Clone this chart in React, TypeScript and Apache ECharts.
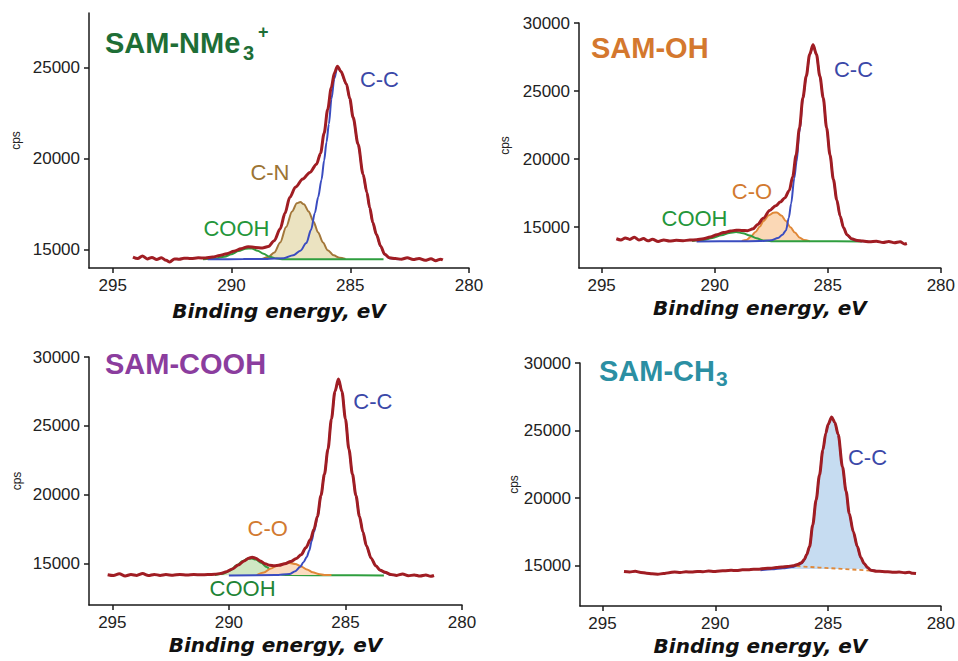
import React, { useEffect, useRef } from 'react';
import * as echarts from 'echarts';

type Pt = [number, number];

// ---------- shared ticks ----------
const xTicks = [295, 290, 285, 280];
const yTicksNme3 = [15000, 20000, 25000];
const yTicks = [15000, 20000, 25000, 30000];

// ---------- Panel 1: SAM-NMe3+ ----------
const nme3Envelope: Pt[] = [[294.15,14600],[293.95,14520],[293.75,14660],[293.55,14500],[293.35,14580],[293.15,14470],[292.95,14560],[292.75,14420],[292.6,14330],[292.4,14500],[292.2,14480],[292.0,14540],[291.7,14520],[291.4,14560],[291.1,14550],[290.8,14600],[290.5,14680],[290.2,14780],[289.9,14920],[289.6,15060],[289.3,15170],[289.0,15130],[288.7,15100],[288.45,15180],[288.2,15500],[287.95,16150],[287.75,17000],[287.55,17870],[287.3,18450],[287.0,18890],[286.7,19250],[286.42,19700],[286.25,20300],[286.1,21400],[285.95,22700],[285.8,23900],[285.67,24700],[285.54,25080],[285.4,24800],[285.16,24100],[285.02,23300],[284.88,22270],[284.67,20800],[284.46,19150],[284.3,18150],[284.18,17320],[284.05,16500],[283.9,15850],[283.72,15200],[283.55,14760],[283.35,14560],[283.1,14520],[282.85,14480],[282.6,14560],[282.35,14460],[282.1,14520],[281.85,14420],[281.6,14510],[281.4,14400],[281.2,14480],[281.1,14440]];
const nme3CC: Pt[] = [[291.0,14480],[289.5,14490],[288.5,14500],[287.8,14540],[287.4,14700],[287.1,14950],[286.85,15370],[286.65,16100],[286.49,17020],[286.35,17900],[286.21,18850],[286.1,19900],[286.0,20900],[285.9,21900],[285.79,23300],[285.67,24400],[285.54,25050],[285.4,24780],[285.16,24080],[285.02,23280],[284.88,22250],[284.67,20780],[284.46,19130],[284.3,18130],[284.18,17300],[284.05,16480],[283.9,15830],[283.72,15180],[283.55,14740],[283.35,14540],[283.1,14490],[282.9,14480]];
const nme3CN: Pt[] = [[288.7,14500],[288.45,14600],[288.2,14850],[287.95,15400],[287.7,16250],[287.45,17100],[287.25,17550],[287.1,17620],[286.95,17500],[286.75,17100],[286.55,16550],[286.35,15950],[286.15,15400],[285.95,14980],[285.7,14700],[285.45,14560],[285.2,14500]];
const nme3COOH: Pt[] = [[291.2,14480],[290.7,14520],[290.3,14620],[290.0,14750],[289.7,14930],[289.4,15060],[289.15,15070],[288.9,14950],[288.65,14780],[288.4,14620],[288.1,14520],[287.8,14480],[285.5,14480],[283.6,14480]];
const nme3Labels = [
  { text: 'C-C', x: 283.75, y: 24340, color: '#3b48a8' },
  { text: 'C-N', x: 288.36, y: 19190, color: '#9c7434' },
  { text: 'COOH', x: 289.77, y: 16140, color: '#24963a' },
];

// ---------- Panel 2: SAM-OH ----------
const ohEnvelope: Pt[] = [[294.35,14150],[294.15,14060],[293.95,14200],[293.75,14100],[293.55,14260],[293.35,14060],[293.15,14160],[292.95,14000],[292.75,14110],[292.5,13950],[292.25,14060],[292.0,13990],[291.7,14030],[291.4,14010],[291.1,14050],[290.8,14080],[290.5,14150],[290.2,14280],[289.9,14450],[289.6,14600],[289.3,14720],[289.05,14770],[288.8,14760],[288.55,14740],[288.3,14880],[288.1,15200],[287.85,15650],[287.57,16230],[287.3,16580],[287.1,16840],[286.9,17150],[286.7,17700],[286.55,18700],[286.4,20300],[286.25,22300],[286.1,24500],[285.95,26100],[285.8,27700],[285.65,28400],[285.5,27700],[285.35,26100],[285.2,24500],[285.05,22300],[284.9,20300],[284.75,18500],[284.6,17000],[284.45,15800],[284.3,14950],[284.15,14450],[283.95,14150],[283.7,14020],[283.45,13980],[283.15,13920],[282.85,13960],[282.55,13880],[282.3,13950],[282.05,13850],[281.8,13930],[281.6,13760],[281.5,13800]];
const ohCC: Pt[] = [[290.8,13950],[289.0,13960],[288.0,13980],[287.5,14030],[287.2,14200],[287.0,14450],[286.85,14760],[286.72,15700],[286.62,16720],[286.48,18600],[286.38,19800],[286.25,22000],[286.1,24400],[285.95,26050],[285.8,27650],[285.65,28380],[285.5,27680],[285.35,26080],[285.2,24480],[285.05,22280],[284.9,20280],[284.75,18480],[284.6,16980],[284.45,15780],[284.3,14930],[284.15,14430],[283.95,14130],[283.7,13990],[283.45,13960],[283.2,13950]];
const ohCO: Pt[] = [[288.8,13980],[288.6,14050],[288.4,14300],[288.2,14650],[288.0,15050],[287.85,15450],[287.6,15880],[287.4,16060],[287.25,16080],[287.05,15850],[286.85,15450],[286.65,15000],[286.45,14600],[286.25,14250],[286.05,14050],[285.8,13970]];
const ohCOOH: Pt[] = [[291.0,13980],[290.5,14050],[290.1,14200],[289.7,14400],[289.35,14580],[289.05,14640],[288.75,14560],[288.45,14380],[288.15,14180],[287.85,14020],[287.5,13970],[285.5,13960],[283.5,13950]];
const ohLabels = [
  { text: 'C-C', x: 283.84, y: 26520, color: '#3b48a8' },
  { text: 'C-O', x: 288.33, y: 17570, color: '#d27a30' },
  { text: 'COOH', x: 290.87, y: 15620, color: '#24963a' },
];

// ---------- Panel 3: SAM-COOH ----------
const coohEnvelope: Pt[] = [[295.2,14200],[294.95,14140],[294.7,14260],[294.45,14110],[294.2,14210],[293.95,14150],[293.7,14280],[293.45,14140],[293.2,14220],[292.95,14150],[292.7,14210],[292.4,14160],[292.1,14220],[291.8,14180],[291.5,14210],[291.2,14190],[290.9,14210],[290.6,14230],[290.35,14290],[290.1,14420],[289.85,14620],[289.6,14900],[289.35,15200],[289.15,15400],[289.0,15460],[288.85,15400],[288.65,15200],[288.45,15000],[288.25,14880],[288.05,14850],[287.85,14880],[287.6,15000],[287.35,15150],[287.1,15380],[286.9,15650],[286.7,16150],[286.5,16750],[286.35,17500],[286.2,18450],[286.05,19950],[285.9,21500],[285.75,23300],[285.6,25500],[285.45,27500],[285.3,28400],[285.15,27500],[285.0,25500],[284.85,23300],[284.7,21500],[284.55,19950],[284.4,18450],[284.25,17300],[284.1,16300],[283.9,15400],[283.7,14850],[283.5,14520],[283.3,14370],[283.05,14220],[282.8,14150],[282.55,14250],[282.3,14120],[282.05,14180],[281.8,14100],[281.55,14170],[281.35,14080],[281.2,14140]];
const coohCC: Pt[] = [[290.0,14150],[288.0,14170],[287.4,14250],[287.15,14450],[286.95,14750],[286.8,15100],[286.66,15480],[286.55,15950],[286.45,16650],[286.35,17300],[286.2,18350],[286.05,19930],[285.9,21480],[285.75,23290],[285.6,25490],[285.45,27490],[285.3,28390],[285.15,27490],[285.0,25490],[284.85,23290],[284.7,21490],[284.55,19940],[284.4,18440],[284.25,17290],[284.1,16290],[283.9,15390],[283.7,14840],[283.5,14510],[283.3,14340],[283.05,14180],[282.8,14160]];
const coohCO: Pt[] = [[288.8,14170],[288.5,14350],[288.2,14650],[287.9,14900],[287.6,15020],[287.4,15050],[287.15,14980],[286.9,14800],[286.65,14580],[286.4,14380],[286.15,14250],[285.9,14180],[285.6,14170]];
const coohCOOH: Pt[] = [[290.6,14170],[290.25,14260],[289.95,14500],[289.67,14880],[289.4,15200],[289.2,15350],[289.03,15380],[288.85,15300],[288.6,15050],[288.38,14750],[288.15,14480],[287.95,14320],[287.7,14200],[287.4,14170],[285.5,14160],[283.35,14150]];
const coohLabels = [
  { text: 'C-C', x: 283.8, y: 26760, color: '#3b48a8' },
  { text: 'C-O', x: 288.31, y: 17480, color: '#d27a30' },
  { text: 'COOH', x: 289.39, y: 13180, color: '#1f8436' },
];

// ---------- Panel 4: SAM-CH3 ----------
const ch3Envelope: Pt[] = [[294.05,14550],[293.8,14520],[293.55,14570],[293.3,14490],[293.05,14430],[292.8,14380],[292.55,14360],[292.3,14400],[292.05,14470],[291.8,14520],[291.55,14490],[291.3,14530],[291.05,14520],[290.8,14560],[290.55,14540],[290.3,14590],[290.05,14560],[289.8,14600],[289.55,14620],[289.3,14640],[289.05,14630],[288.8,14680],[288.55,14690],[288.3,14720],[288.05,14730],[287.8,14780],[287.55,14800],[287.3,14850],[287.05,14880],[286.8,14930],[286.55,14980],[286.35,15080],[286.18,15200],[286.05,15450],[285.95,15800],[285.82,16400],[285.68,18000],[285.53,19850],[285.38,21700],[285.23,23560],[285.1,24800],[285.0,25450],[284.84,26000],[284.7,25600],[284.55,24700],[284.36,22300],[284.2,20500],[284.06,18850],[283.88,17500],[283.7,16400],[283.55,15600],[283.4,15150],[283.25,14850],[283.1,14650],[282.85,14580],[282.6,14560],[282.35,14530],[282.1,14500],[281.85,14510],[281.6,14470],[281.4,14500],[281.25,14420],[281.1,14400]];
const ch3CC: Pt[] = [[288.0,14650],[287.5,14720],[287.0,14800],[286.6,14880],[286.35,15000],[286.18,15150],[286.05,15400],[285.95,15780],[285.82,16380],[285.68,17980],[285.53,19830],[285.38,21680],[285.23,23540],[285.1,24780],[285.0,25430],[284.84,25980],[284.7,25580],[284.55,24680],[284.36,22280],[284.2,20480],[284.06,18830],[283.88,17480],[283.7,16380],[283.55,15580],[283.4,15130],[283.25,14830],[283.1,14640],[282.9,14600]];
const ch3Background: Pt[] = [[286.4,14950],[285.4,14850],[284.4,14750],[283.4,14650],[283.1,14620]];
const ch3Labels = [
  { text: 'C-C', x: 283.23, y: 22950, color: '#3b48a8' },
];

// ---------- styling / layout ----------
const FONT = "'Liberation Sans', Arial, sans-serif";
const RED = '#a01d23';
const BLUE = '#3a4cc0';
const GREEN = '#2f9e3f';
const BROWN = '#a3773a';
const ORANGE = '#e08838';

const panels = [
  { grid: { left: 89, top: 13, width: 380, height: 255 }, yMin: 14000, yMax: 28000, yTicks: yTicksNme3, nameGap: 33, cpsGap: 67 },
  { grid: { left: 579, top: 23, width: 368, height: 245 }, yMin: 12000, yMax: 30000, yTicks, nameGap: 30, cpsGap: 68 },
  { grid: { left: 89, top: 357, width: 373, height: 248 }, yMin: 12000, yMax: 30000, yTicks, nameGap: 30, cpsGap: 66 },
  { grid: { left: 580, top: 363, width: 365, height: 243 }, yMin: 12000, yMax: 30000, yTicks, nameGap: 30, cpsGap: 59 },
];

function line(i: number, data: Pt[], color: string, width: number, z: number, extra: any = {}) {
  return {
    type: 'line', xAxisIndex: i, yAxisIndex: i, data, symbol: 'none', showSymbol: false,
    smooth: 0.3, smoothMonotone: 'x', silent: true, z,
    lineStyle: { color, width }, ...extra,
  };
}

function labels(i: number, items: { text: string; x: number; y: number; color: string }[]) {
  return {
    type: 'scatter', xAxisIndex: i, yAxisIndex: i, symbolSize: 1, silent: true, z: 20,
    itemStyle: { opacity: 0 },
    data: items.map((l) => ({ name: l.text, value: [l.x, l.y], label: { color: l.color } })),
    label: {
      show: true, position: [0, 0], align: 'center', verticalAlign: 'middle', formatter: '{b}',
      fontSize: 22, fontFamily: FONT, textBorderWidth: 0, opacity: 1,
    },
  };
}

const CW = 2; // component line width

const series: any[] = [
  // panel 1
  line(0, nme3CN, BROWN, CW, 2, { areaStyle: { color: '#ebe3c1', opacity: 1, origin: 14500 } }),
  line(0, nme3COOH, GREEN, CW, 3),
  line(0, nme3CC, BLUE, CW, 4),
  line(0, nme3Envelope, RED, 3, 5),
  labels(0, nme3Labels),
  // panel 2
  line(1, ohCO, ORANGE, CW, 2, { areaStyle: { color: '#fbd8b6', opacity: 1, origin: 13970 } }),
  line(1, ohCOOH, GREEN, CW, 3),
  line(1, ohCC, BLUE, CW, 4),
  line(1, ohEnvelope, RED, 3, 5),
  labels(1, ohLabels),
  // panel 3
  line(2, coohCOOH, GREEN, CW, 2, { areaStyle: { color: '#cfe7c3', opacity: 1, origin: 14160 } }),
  line(2, coohCO, ORANGE, CW, 3, { areaStyle: { color: '#fbdcc0', opacity: 1, origin: 14170 } }),
  line(2, coohCC, BLUE, CW, 4),
  line(2, coohEnvelope, RED, 3, 5),
  labels(2, coohLabels),
  // panel 4
  line(3, ch3CC, BLUE, CW, 2, { areaStyle: { color: '#c6dcf1', opacity: 1, origin: 14750 } }),
  line(3, ch3Background, ORANGE, CW, 3, { smooth: false, lineStyle: { color: ORANGE, width: 1.8, type: [4, 3] } }),
  line(3, ch3Envelope, RED, 3, 5),
  labels(3, ch3Labels),
];

function titleText(x: number, y: number, text: string, color: string, size: number) {
  return {
    type: 'text', x, y, silent: true, z: 30,
    style: {
      text, fill: color, fontSize: size, fontWeight: 'bold', fontFamily: FONT,
      align: 'left', verticalAlign: 'middle', textAlign: 'left', textVerticalAlign: 'middle',
    },
  };
}

const graphics = [
  titleText(105, 43, 'SAM-NMe', '#1e6e36', 29),
  titleText(243, 53, '3', '#1e6e36', 20),
  titleText(258, 32, '+', '#1e6e36', 18),
  titleText(591, 48, 'SAM-OH', '#d4782e', 29),
  titleText(105, 364, 'SAM-COOH', '#8b3d9e', 29),
  titleText(599, 371, 'SAM-CH', '#2b8fa3', 29),
  titleText(716, 378, '3', '#2b8fa3', 21),
];

const axisColor = '#1a1a1a';
const plain = (v: number) => String(v);

const option: any = {
  animation: false,
  backgroundColor: '#ffffff',
  grid: panels.map((p) => ({ ...p.grid, containLabel: false })),
  xAxis: panels.map((p, i) => ({
    type: 'value', gridIndex: i, min: 280, max: 296, inverse: true,
    axisLine: { show: true, onZero: false, lineStyle: { color: axisColor, width: 1.5 } },
    axisTick: { show: true, length: 5, customValues: xTicks, lineStyle: { color: axisColor, width: 1.5 } },
    axisLabel: { customValues: xTicks, formatter: plain, fontSize: 17, color: '#222', margin: 9, fontFamily: FONT },
    splitLine: { show: false },
    name: 'Binding energy, eV', nameLocation: 'middle', nameGap: p.nameGap,
    nameTextStyle: { fontSize: 20, fontWeight: 'bold', fontStyle: 'italic', fontFamily: "'DejaVu Sans', sans-serif", color: '#111' },
  })),
  yAxis: panels.map((p, i) => ({
    type: 'value', gridIndex: i, min: p.yMin, max: p.yMax,
    axisLine: { show: true, onZero: false, lineStyle: { color: axisColor, width: 1.5 } },
    axisTick: { show: true, length: 5, customValues: p.yTicks, lineStyle: { color: axisColor, width: 1.5 } },
    axisLabel: { customValues: p.yTicks, formatter: plain, fontSize: 17, color: '#222', margin: 9, fontFamily: FONT },
    splitLine: { show: false },
    name: 'cps', nameLocation: 'middle', nameGap: p.cpsGap,
    nameTextStyle: { fontSize: 12, color: '#222', fontFamily: FONT },
  })),
  series,
  graphic: graphics,
};

export default function App() {
  const ref = useRef<HTMLDivElement>(null);
  useEffect(() => {
    if (!ref.current) return;
    const chart = echarts.init(ref.current, undefined, { renderer: 'svg' });
    chart.setOption(option);
    return () => chart.dispose();
  }, []);
  return (
    <div
      ref={ref}
      style={{ position: 'fixed', left: 0, top: 0, width: 958, height: 661, background: '#fff' }}
    />
  );
}
